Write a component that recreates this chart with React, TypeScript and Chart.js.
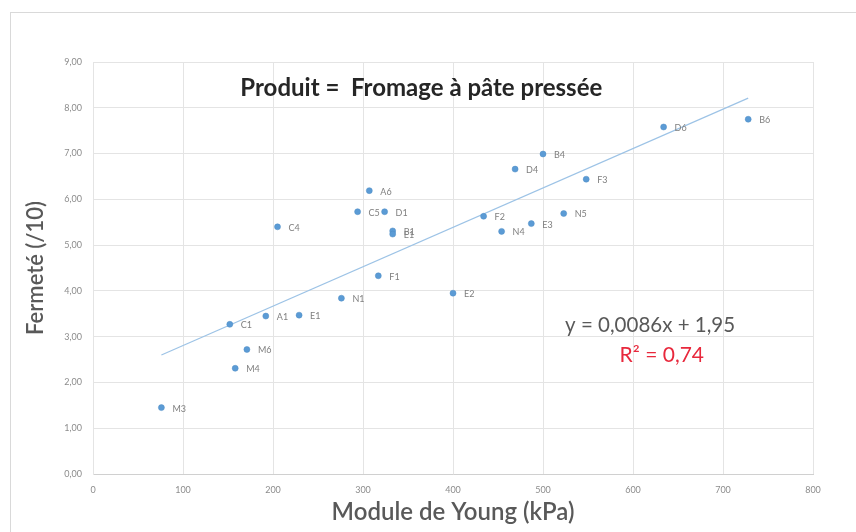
import React, { useEffect, useRef } from "react";
import { Chart, registerables } from "chart.js";

Chart.register(...registerables);

const pointLabels = ["M3", "M4", "M6", "C1", "A1", "E1", "N1", "F1", "C4", "C5", "D1", "A6", "B1", "E1", "E2", "F2", "N4", "E3", "N5", "D4", "B4", "F3", "D6", "B6"];
const youngModulus = [76, 158, 171, 152, 192, 229, 276, 317, 205, 294, 324, 307, 333, 333, 400, 434, 454, 487, 523, 469, 500, 548, 634, 728];
const firmness = [1.45, 2.31, 2.72, 3.27, 3.45, 3.47, 3.84, 4.33, 5.4, 5.73, 5.73, 6.19, 5.31, 5.24, 3.95, 5.63, 5.3, 5.47, 5.69, 6.66, 6.99, 6.44, 7.58, 7.75];
const trendX = [76, 728];
const trendY = [2.6, 8.21];
const xTicks = [0, 100, 200, 300, 400, 500, 600, 700, 800];
const yTicks = [0, 1, 2, 3, 4, 5, 6, 7, 8, 9];

const chartTitle = "Produit =  Fromage à pâte pressée";
const equationText = "y = 0,0086x + 1,95";
const r2Text = "R² = 0,74";
const xTitle = "Module de Young (kPa)";
const yTitle = "Fermeté (/10)";

const FONT = "Lato, 'Open Sans', sans-serif";

export default function App() {
  const ref = useRef<HTMLCanvasElement | null>(null);
  useEffect(() => {
    if (!ref.current) return;
    const decor = {
      id: "decor",
      beforeDraw(chart: any) {
        const ctx = chart.ctx;
        ctx.save();
        ctx.strokeStyle = "#d9d9d9";
        ctx.lineWidth = 1;
        ctx.strokeRect(10.5, 12.5, 860, 540);
        ctx.restore();
      },
      afterDatasetsDraw(chart: any) {
        const ctx = chart.ctx;
        const xs = chart.scales.x;
        const ys = chart.scales.y;
        const area = chart.chartArea;
        ctx.save();
        ctx.font = "9px " + FONT;
        ctx.fillStyle = "#7f7f7f";
        ctx.textBaseline = "middle";
        ctx.textAlign = "left";
        pointLabels.forEach((lab, i) => {
          const px = xs.getPixelForValue(youngModulus[i]);
          const py = ys.getPixelForValue(firmness[i]);
          ctx.fillText(lab, px + 11, py + 1);
        });
        ctx.textAlign = "center";
        ctx.fillStyle = "#262626";
        ctx.font = "bold 24px " + FONT;
        ctx.fillText(chartTitle, area.left + (area.right - area.left) * 0.456, area.top + 26);
        ctx.fillStyle = "#595959";
        ctx.font = "20.5px " + FONT;
        ctx.fillText(equationText, xs.getPixelForValue(619), ys.getPixelForValue(3.24));
        ctx.fillStyle = "#e8283c";
        ctx.font = "21px " + FONT;
        ctx.fillText(r2Text, xs.getPixelForValue(632), ys.getPixelForValue(2.6));
        ctx.restore();
      },
    };
    const chart = new Chart(ref.current, {
      type: "scatter",
      data: {
        datasets: [
          {
            label: "Fermeté",
            data: youngModulus.map((x, i) => ({ x, y: firmness[i] })),
            backgroundColor: "#5b9bd5",
            borderColor: "#4f8cc4",
            borderWidth: 0.5,
            pointRadius: 3,
            pointHoverRadius: 3,
          },
          {
            label: "Tendance",
            data: trendX.map((x, i) => ({ x, y: trendY[i] })),
            showLine: true,
            borderColor: "#9dc3e6",
            borderWidth: 1.2,
            pointRadius: 0,
            pointHoverRadius: 0,
          },
        ],
      },
      plugins: [decor],
      options: {
        animation: false,
        responsive: false,
        maintainAspectRatio: false,
        layout: { padding: { left: 0, right: 43, top: 62, bottom: 0 } },
        plugins: { legend: { display: false }, tooltip: { enabled: false }, title: { display: false } },
        scales: {
          x: {
            type: "linear",
            min: 0,
            max: 800,
            afterFit(s: any) { s.height = 58; },
            afterBuildTicks(s: any) { s.ticks = xTicks.map((v) => ({ value: v })); },
            grid: { color: "#e4e4e4", drawTicks: false },
            border: { color: "#d0d0d0" },
            ticks: {
              padding: 11,
              color: "#8c8c8c",
              font: { family: FONT, size: 9 },
              callback: (v: any) => String(v),
            },
            title: {
              display: true,
              text: xTitle,
              color: "#595959",
              font: { family: FONT, size: 24, weight: "600" },
              padding: { top: 0, bottom: 5 },
            },
          },
          y: {
            type: "linear",
            min: 0,
            max: 9,
            afterFit(s: any) { s.width = 93; },
            afterBuildTicks(s: any) { s.ticks = yTicks.map((v) => ({ value: v })); },
            grid: { color: "#e4e4e4", drawTicks: false },
            border: { color: "#e4e4e4" },
            ticks: {
              padding: 11,
              color: "#8c8c8c",
              font: { family: FONT, size: 9 },
              callback: (v: any) => Number(v).toFixed(2).replace(".", ","),
            },
            title: {
              display: true,
              text: yTitle,
              color: "#595959",
              font: { family: FONT, size: 22, weight: "600" },
              padding: { top: 23, bottom: 0 },
            },
          },
        },
      },
    });
    return () => chart.destroy();
  }, []);
  return (
    <div style={{ position: "fixed", left: 0, top: 0, width: 856, height: 532, background: "#fff" }}>
      <canvas ref={ref} width={856} height={532} style={{ width: 856, height: 532 }} />
    </div>
  );
}
